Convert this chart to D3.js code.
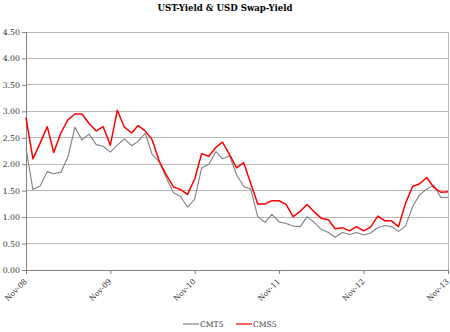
<!DOCTYPE html>
<html>
<head>
<meta charset="utf-8">
<script src="https://cdn.jsdelivr.net/npm/d3@7"></script>
<style>
  html, body { margin: 0; padding: 0; background: #fff; }
  svg { display: block; }
</style>
</head>
<body>
<svg id="chart" width="450" height="332"></svg>
<script>
const title = "UST-Yield & USD Swap-Yield";
const seriesNames = ["CMT5", "CMS5"];
const seriesColors = ["#808080", "#ff0000"];
const startMonth = [2008, 10]; // Nov 2008
const cmt5 = [2.30,1.52,1.59,1.86,1.82,1.85,2.13,2.70,2.46,2.57,2.37,2.34,2.23,2.36,2.48,2.35,2.43,2.59,2.18,2.05,1.74,1.46,1.39,1.19,1.34,1.93,2.00,2.24,2.10,2.16,1.80,1.58,1.53,1.01,0.90,1.05,0.91,0.88,0.83,0.82,1.01,0.90,0.77,0.71,0.62,0.71,0.67,0.71,0.66,0.70,0.80,0.84,0.82,0.73,0.83,1.20,1.42,1.53,1.60,1.37,1.37];
const cms5 = [2.88,2.10,2.40,2.71,2.22,2.59,2.84,2.95,2.95,2.77,2.63,2.71,2.36,3.02,2.70,2.59,2.73,2.63,2.46,2.05,1.80,1.57,1.52,1.43,1.72,2.20,2.15,2.32,2.42,2.18,1.93,2.03,1.64,1.25,1.25,1.31,1.31,1.24,1.01,1.11,1.24,1.10,0.98,0.95,0.78,0.80,0.74,0.82,0.74,0.81,1.02,0.93,0.93,0.82,1.26,1.58,1.63,1.75,1.56,1.47,1.48];
const yTicks = [0, 0.5, 1, 1.5, 2, 2.5, 3, 3.5, 4, 4.5];
const xTickYears = [2008, 2009, 2010, 2011, 2012, 2013];

const svg = d3.select("#chart");
const m = {left: 26, right: 2, top: 32, bottom: 62};
const W = 450, H = 332;
const x0 = m.left, x1 = W - m.right, y0 = H - m.bottom, y1 = m.top;

const dates = cmt5.map((_, i) => new Date(startMonth[0], startMonth[1] + i, 1));
const x = d3.scaleTime().domain([dates[0], dates[dates.length - 1]]).range([x0, x1]);
const y = d3.scaleLinear().domain([0, 4.5]).range([y0, y1]);

const serif = "'DejaVu Serif', serif";

// title
svg.append("text").attr("x", 225).attr("y", 11).attr("text-anchor", "middle")
  .attr("font-family", serif).attr("font-weight", "bold").attr("font-size", 8.6)
  .attr("fill", "#000").text(title);

// gridlines
svg.append("g").selectAll("line").data(yTicks.filter(d => d > 0)).join("line")
  .attr("x1", x0).attr("x2", x1).attr("y1", d => y(d)).attr("y2", d => y(d))
  .attr("stroke", "#b8b8b8").attr("stroke-width", 1).attr("shape-rendering", "crispEdges");
// right border
svg.append("line").attr("x1", x1).attr("x2", x1).attr("y1", y1).attr("y2", y0)
  .attr("stroke", "#b8b8b8").attr("shape-rendering", "crispEdges");

// y axis
const yAxis = svg.append("g").attr("transform", `translate(${x0},0)`)
  .call(d3.axisLeft(y).tickValues(yTicks).tickFormat(d3.format(".2f")).tickSize(4).tickPadding(2));
yAxis.select(".domain").attr("stroke", "#808080");
yAxis.selectAll(".tick line").attr("stroke", "#808080");
yAxis.selectAll("text").attr("font-family", serif).attr("font-size", 7.8).attr("fill", "#333");

// x axis
const xTicks = xTickYears.map(yr => new Date(yr, 10, 1));
const xAxis = svg.append("g").attr("transform", `translate(0,${y0})`)
  .call(d3.axisBottom(x).tickValues(xTicks).tickFormat(d3.timeFormat("%b-%y")).tickSize(4).tickSizeOuter(0));
xAxis.select(".domain").attr("stroke", "#808080");
xAxis.selectAll(".tick line").attr("stroke", "#808080");
xAxis.selectAll("text").attr("font-family", serif).attr("font-size", 7.6).attr("fill", "#333")
  .attr("text-anchor", "end").attr("dy", null).attr("y", 0)
  .attr("transform", "translate(1,12) rotate(-45)");

// lines
const line = d3.line().x((d, i) => x(dates[i])).y(d => y(d));
svg.append("path").datum(cmt5).attr("d", line).attr("fill", "none")
  .attr("stroke", seriesColors[0]).attr("stroke-width", 1.1).attr("stroke-linejoin", "round");
svg.append("path").datum(cms5).attr("d", line).attr("fill", "none")
  .attr("stroke", seriesColors[1]).attr("stroke-width", 1.5).attr("stroke-linejoin", "round");

// legend
const legendX = [183, 236];
const lg = svg.append("g");
seriesNames.forEach((n, i) => {
  lg.append("line").attr("x1", legendX[i]).attr("x2", legendX[i] + 16)
    .attr("y1", 324).attr("y2", 324).attr("stroke", seriesColors[i]).attr("stroke-width", 1.2);
  lg.append("text").attr("x", legendX[i] + 17).attr("y", 327)
    .attr("font-family", serif).attr("font-size", 7.6).attr("fill", "#333").text(n);
});
</script>
</body>
</html>
